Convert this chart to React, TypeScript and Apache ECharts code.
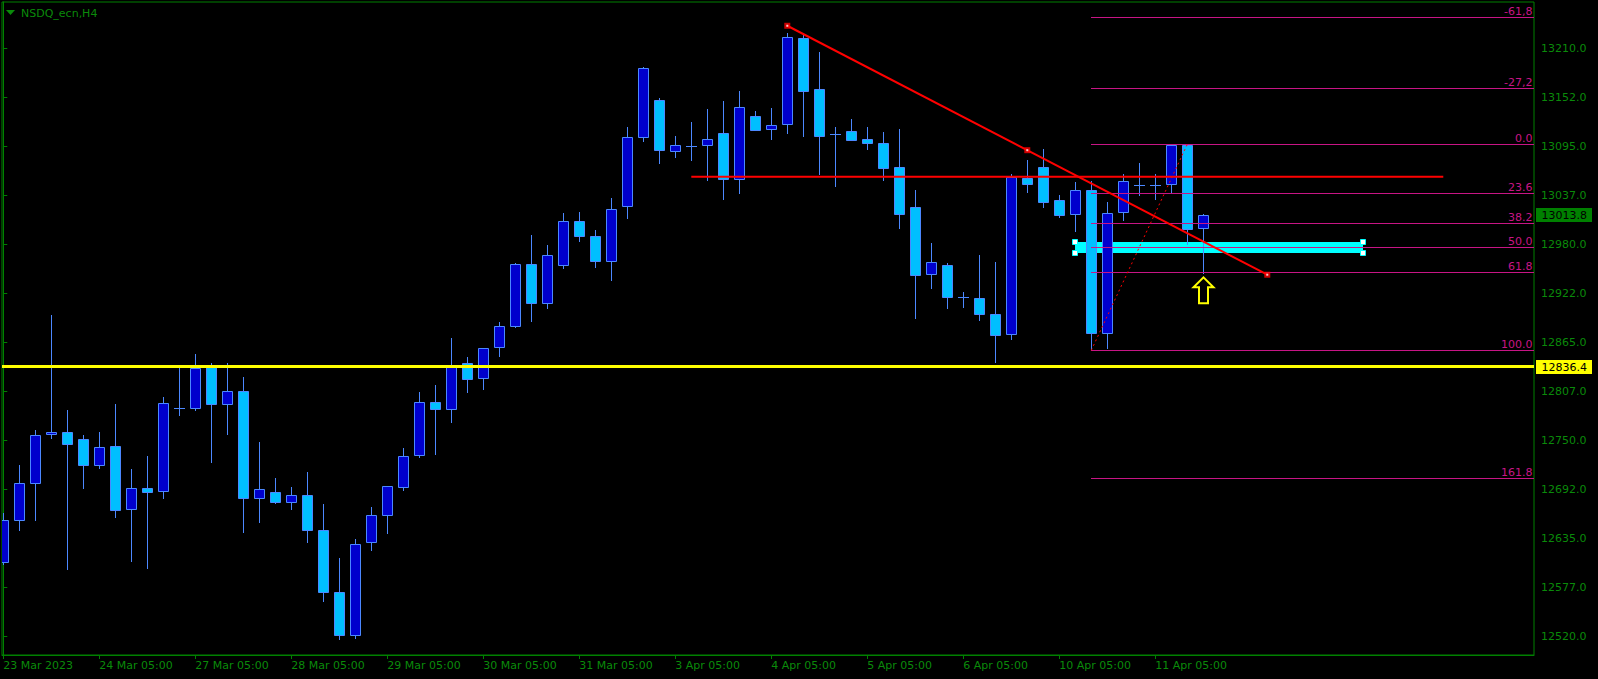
import React, { useEffect, useRef } from "react";
import * as echarts from "echarts";

const chartTitle = "NSDQ_ecn,H4";
const timeLabels = [
  "23 Mar 2023", "24 Mar 05:00", "27 Mar 05:00", "28 Mar 05:00", "29 Mar 05:00",
  "30 Mar 05:00", "31 Mar 05:00", "3 Apr 05:00", "4 Apr 05:00", "5 Apr 05:00",
  "6 Apr 05:00", "10 Apr 05:00", "11 Apr 05:00",
];
const timeLabelBars = [0, 6, 12, 18, 24, 30, 36, 42, 48, 54, 60, 66, 72];
const priceTicks = [12520, 12577, 12635, 12692, 12750, 12807, 12865, 12922, 12980, 13037, 13095, 13152, 13210];

const opens = [
  12606.5, 12655.8, 12699.3, 12756.8, 12759.1, 12750.9, 12720.4, 12742.7, 12668.7, 12693.4,
  12689.9, 12787.3, 12787.3, 12835.8, 12792.7, 12807.3, 12682.3, 12688.7, 12677.0, 12685.2,
  12644.1, 12571.3, 12520.8, 12630.0, 12661.7, 12694.9, 12733.1, 12794.4, 12786.1, 12840.1,
  12823.2, 12858.9, 12883.6, 12956.4, 12910.6, 12955.2, 13006.9, 12989.3, 12959.9, 13024.5,
  13105.5, 13148.9, 13089.1, 13095.6, 13096.1, 13110.2, 13056.2, 13130.2, 13114.9, 13120.8,
  13221.7, 13161.9, 13109.7, 13112.5, 13103.1, 13098.4, 13070.3, 13023.3, 12944.6, 12955.2,
  12918.0, 12916.5, 12897.7, 12874.2, 13058.1, 13070.3, 13031.5, 13015.1, 13043.3, 12875.4,
  13017.4, 13049.8, 13049.8, 13050.3, 13096.1, 12998.7,
];
const closes = [
  12656.2, 12699.3, 12755.6, 12759.1, 12745.1, 12720.4, 12741.5, 12668.3, 12693.4, 12689.4,
  12793.2, 12787.3, 12834.6, 12792.7, 12807.3, 12682.3, 12692.2, 12677.7, 12685.2, 12644.1,
  12571.3, 12520.8, 12627.6, 12661.7, 12695.7, 12731.9, 12794.4, 12786.1, 12836.2, 12822.1,
  12857.8, 12883.6, 12956.4, 12910.6, 12966.9, 13006.9, 12990.0, 12959.9, 13021.0, 13105.5,
  13186.5, 13090.2, 13096.1, 13095.8, 13103.1, 13056.2, 13140.7, 13114.4, 13119.6, 13222.9,
  13159.5, 13107.4, 13109.7, 13102.7, 13098.4, 13069.8, 13015.8, 12944.2, 12958.7, 12917.6,
  12918.0, 12897.7, 12873.0, 13059.2, 13051.0, 13029.9, 13014.6, 13043.3, 12875.4, 13016.3,
  13053.8, 13049.8, 13049.8, 13096.1, 12998.2, 13013.8,
];
const lows = [
  12604.5, 12644.8, 12656.5, 12752.8, 12599.0, 12694.1, 12717.6, 12660.0, 12608.4, 12600.2,
  12682.3, 12779.4, 12785.3, 12724.6, 12757.1, 12642.4, 12654.2, 12676.1, 12669.1, 12630.7,
  12561.4, 12515.9, 12518.0, 12621.3, 12641.3, 12691.4, 12730.1, 12734.2, 12771.6, 12806.8,
  12810.3, 12849.1, 12882.4, 12890.2, 12905.4, 12952.4, 12984.1, 12953.6, 12938.3, 13011.1,
  13101.5, 13075.7, 13082.7, 13079.2, 13055.7, 13033.4, 13040.4, 13113.7, 13103.9, 13110.9,
  13107.4, 13062.8, 13048.7, 13102.5, 13092.1, 13055.7, 12999.4, 12893.7, 12928.9, 12905.4,
  12906.6, 12891.3, 12842.0, 12869.0, 13041.6, 13024.0, 13012.3, 12995.8, 12856.0, 12858.5,
  13008.7, 13038.1, 13033.4, 13040.4, 12980.6, 12945.8,
];
const highs = [
  12664.0, 12720.7, 12761.8, 12896.9, 12785.3, 12755.6, 12759.1, 12792.0, 12715.7, 12731.3,
  12800.2, 12835.0, 12851.1, 12841.1, 12840.1, 12824.1, 12747.7, 12705.5, 12694.9, 12712.5,
  12675.0, 12611.2, 12633.9, 12671.4, 12696.1, 12740.7, 12806.5, 12814.7, 12869.9, 12847.5,
  12858.1, 12888.6, 12957.9, 12990.8, 12979.0, 13016.6, 13017.8, 12996.3, 13033.9, 13117.6,
  13188.0, 13151.3, 13106.7, 13123.1, 13138.7, 13148.1, 13159.9, 13136.4, 13139.5, 13227.6,
  13225.6, 13205.6, 13117.6, 13127.0, 13117.6, 13111.7, 13115.2, 13043.6, 12981.4, 12957.6,
  12923.5, 12967.3, 12958.7, 13062.4, 13078.5, 13091.4, 13037.4, 13052.7, 13053.8, 13029.2,
  13062.4, 13075.0, 13062.4, 13096.5, 13097.3, 13015.1,
];

// Fibonacci retracement object
const fibStartBar = 68;
const fibEndBar = 74;
const fibLowPrice = 12855.4;
const fibHighPrice = 13097.3;
const fibRatios = [-61.8, -27.2, 0, 23.6, 38.2, 50, 61.8, 100, 161.8];
const fibLabels = ["-61,8", "-27,2", "0.0", "23.6", "38.2", "50.0", "61.8", "100.0", "161.8"];

// Drawn objects
const supportLevel = 12836.4;
const resistanceLine = [[43, 13059.2], [90, 13059.2]];
const trendAnchors = [[49, 13236.5], [64, 13090.4], [79, 12944.2]];
const zoneRect = [67, 12982.2, 85, 12969.3];
const arrowBar = 75;

const GREEN = "#0a8a0a";
const FRAME = "#008000";
const DARK = "#0000CD";
const LIGHT = "#00BFFF";
const WICK = "#4C88FF";
const FIB = "#C71585";
const FONT = '11px "DejaVu Sans"';

export default function App() {
  const ref = useRef<HTMLDivElement>(null);
  useEffect(() => {
    document.body.style.margin = "0";
    document.body.style.background = "#000";
    const chart = echarts.init(ref.current!, undefined, { renderer: "svg" });

    const candleData = opens.map((o, i) => [i, o, closes[i], lows[i], highs[i]]);
    const fibData = fibRatios.map((r, k) => [
      fibStartBar,
      fibHighPrice - (r / 100) * (fibHighPrice - fibLowPrice),
      k,
    ]);
    const lastPrice = closes[closes.length - 1];

    const option: any = {
      animation: false,
      backgroundColor: "#000",
      grid: {
        left: 2, top: 2, right: 64, bottom: 24,
        show: true, borderColor: FRAME, borderWidth: 1, backgroundColor: "transparent",
      },
      xAxis: {
        type: "value",
        min: -0.081,
        max: 95.67,
        splitLine: { show: false },
        axisLine: { show: true, lineStyle: { color: FRAME } },
        axisTick: { show: true, length: 4, lineStyle: { color: FRAME }, customValues: timeLabelBars },
        axisLabel: {
          customValues: timeLabelBars,
          formatter: (v: number) => timeLabels[timeLabelBars.indexOf(Math.round(v))] ?? "",
          align: "left",
          margin: 5,
          color: GREEN,
          fontFamily: "DejaVu Sans",
          fontSize: 11,
        },
      },
      yAxis: {
        type: "value",
        position: "right",
        min: 12497.7,
        max: 13264.4,
        splitLine: { show: false },
        axisLine: { show: true, lineStyle: { color: FRAME } },
        axisTick: { show: true, length: 4, lineStyle: { color: FRAME }, customValues: priceTicks },
        axisLabel: {
          customValues: priceTicks,
          formatter: (v: number) => v.toFixed(1),
          margin: 7,
          color: GREEN,
          fontFamily: "DejaVu Sans",
          fontSize: 11,
        },
      },
      graphic: [
        { type: "polygon", shape: { points: [[6, 10], [15, 10], [10.5, 15]] }, style: { fill: GREEN } },
        {
          type: "text", x: 21, y: 13,
          style: { text: chartTitle, fill: GREEN, font: FONT, verticalAlign: "middle" },
        },
      ],
      series: [
        {
          type: "custom",
          z: 1,
          clip: true,
          data: [zoneRect],
          encode: { x: [0, 2], y: [1, 3] },
          renderItem: (params: any, api: any) => {
            const a = api.coord([api.value(0), api.value(1)]);
            const b = api.coord([api.value(2), api.value(3)]);
            const x1 = Math.round(a[0]), x2 = Math.round(b[0]);
            const y1 = Math.round(a[1]), y2 = Math.round(b[1]);
            const sq = (x: number, y: number) => ({
              type: "rect",
              shape: { x: x - 2.5, y: y - 2.5, width: 5, height: 5 },
              style: { fill: "#fff", stroke: "#00FFFF", lineWidth: 1 },
            });
            return {
              type: "group",
              children: [
                { type: "rect", shape: { x: x1, y: y1, width: x2 - x1, height: y2 - y1 }, style: { fill: "#00FFFF" } },
                sq(x1, y1), sq(x1, y2), sq(x2, y1), sq(x2, y2),
              ],
            };
          },
        },
        {
          type: "custom",
          z: 2,
          clip: true,
          data: candleData,
          encode: { x: 0, y: [1, 2, 3, 4] },
          renderItem: (params: any, api: any) => {
            const i = api.value(0), o = api.value(1), c = api.value(2), l = api.value(3), h = api.value(4);
            const pO = api.coord([i, o]);
            const pC = api.coord([i, c]);
            const pL = api.coord([i, l]);
            const pH = api.coord([i, h]);
            const cx = Math.round(pO[0]);
            const top = Math.round(Math.min(pO[1], pC[1]));
            const bot = Math.round(Math.max(pO[1], pC[1]));
            const children: any[] = [
              {
                type: "line",
                shape: { x1: cx + 0.5, y1: Math.round(pH[1]), x2: cx + 0.5, y2: Math.round(pL[1]) + 1 },
                style: { stroke: WICK, lineWidth: 1 },
              },
            ];
            if (bot - top < 1) {
              children.push({
                type: "line",
                shape: { x1: cx - 5, y1: top + 0.5, x2: cx + 6, y2: top + 0.5 },
                style: { stroke: WICK, lineWidth: 1 },
              });
            } else {
              children.push({
                type: "rect",
                shape: { x: cx - 4.5, y: top + 0.5, width: 10, height: bot - top },
                style: { fill: c > o ? DARK : LIGHT, stroke: WICK, lineWidth: 1 },
              });
            }
            return { type: "group", children };
          },
        },
        {
          type: "custom",
          z: 3,
          clip: false,
          data: fibData,
          encode: { x: 0, y: 1 },
          renderItem: (params: any, api: any) => {
            const p = api.coord([api.value(0), api.value(1)]);
            const right = params.coordSys.x + params.coordSys.width;
            const y = Math.round(p[1]) + 0.5;
            return {
              type: "group",
              children: [
                { type: "line", shape: { x1: Math.round(p[0]), y1: y, x2: right, y2: y }, style: { stroke: FIB, lineWidth: 1 } },
                {
                  type: "text", x: right - 1.5, y: y - 0.5,
                  style: { text: fibLabels[api.value(2)], fill: FIB, font: FONT, align: "right", verticalAlign: "bottom" },
                },
              ],
            };
          },
        },
        {
          type: "line",
          z: 4,
          data: [[fibStartBar, fibLowPrice], [fibEndBar, fibHighPrice]],
          symbol: "none",
          lineStyle: { color: "#FF0000", width: 1, type: [2, 3] },
        },
        {
          type: "line",
          z: 4,
          data: resistanceLine,
          symbol: "none",
          lineStyle: { color: "#FF0000", width: 2 },
        },
        {
          type: "line",
          z: 4,
          data: [trendAnchors[0], trendAnchors[2]],
          symbol: "none",
          lineStyle: { color: "#FF0000", width: 2 },
        },
        {
          type: "scatter",
          z: 5,
          data: trendAnchors,
          symbol: "rect",
          symbolSize: 6,
          itemStyle: { color: "#FF0000" },
        },
        {
          type: "scatter",
          z: 6,
          data: trendAnchors,
          symbol: "rect",
          symbolSize: 2,
          itemStyle: { color: "#FFFFFF" },
        },
        {
          type: "custom",
          z: 7,
          clip: false,
          data: [[arrowBar, lows[arrowBar]]],
          encode: { x: 0, y: 1 },
          renderItem: (params: any, api: any) => {
            const p = api.coord([api.value(0), api.value(1)]);
            const cx = Math.round(p[0]) + 0.5;
            const ty = p[1] + 4;
            const pts = [[0, 0], [10, 10], [4.5, 10], [4.5, 26], [-4.5, 26], [-4.5, 10], [-10, 10]].map(
              ([dx, dy]) => [cx + dx, ty + dy]
            );
            return {
              type: "polygon",
              shape: { points: pts },
              style: { fill: "none", stroke: "#FFFF00", lineWidth: 2 },
            };
          },
        },
        {
          type: "custom",
          z: 8,
          clip: false,
          data: [[supportLevel, 0], [lastPrice, 1]],
          encode: { y: 0 },
          renderItem: (params: any, api: any) => {
            const price = api.value(0);
            const kind = api.value(1);
            const p = api.coord([0, price]);
            const left = params.coordSys.x;
            const right = params.coordSys.x + params.coordSys.width;
            const y = p[1];
            const children: any[] = [];
            if (kind === 0) {
              children.push({
                type: "line",
                shape: { x1: left, y1: y, x2: right, y2: y },
                style: { stroke: "#FFFF00", lineWidth: 3 },
              });
            }
            children.push({
              type: "rect",
              shape: { x: right + 2, y: Math.round(y) - 7, width: 56, height: 14 },
              style: { fill: kind === 0 ? "#FFFF00" : "#008000" },
            });
            children.push({
              type: "text", x: right + 7.5, y: Math.round(y),
              style: { text: price.toFixed(1), fill: "#000", font: FONT, verticalAlign: "middle" },
            });
            return { type: "group", children };
          },
        },
      ],
    };
    chart.setOption(option);
    return () => chart.dispose();
  }, []);
  return <div ref={ref} style={{ width: 1598, height: 679, background: "#000" }} />;
}
